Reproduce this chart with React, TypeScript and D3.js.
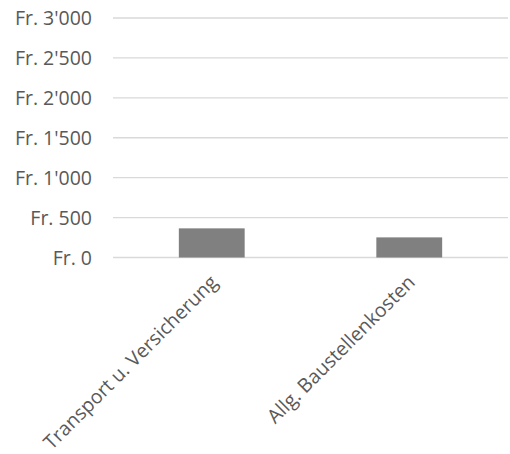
import React from "react";
import * as d3 from "d3";

const categories = ["Transport u. Versicherung", "Allg. Baustellenkosten"];
const values = [365, 252];
const yTicks = [0, 500, 1000, 1500, 2000, 2500, 3000];

const formatFr = (v: number) =>
  "Fr. " + d3.format(",")(v).replace(/,/g, "'");

export default function App() {
  const width = 510;
  const height = 454;
  const left = 113;
  const right = 508;
  const top = 18;
  const bottom = 257.5;

  const x = d3.scaleBand<string>().domain(categories).range([left, right]).paddingInner(0).paddingOuter(0);
  const y = d3.scaleLinear().domain([0, 3000]).range([bottom, top]);
  const barW = x.bandwidth() / 3;
  const font = "'Open Sans', sans-serif";
  const fs = 19.5;

  return (
    <svg width={width} height={height} style={{ position: "absolute", left: 0, top: 0 }}>
      <rect width={width} height={height} fill="#ffffff" />
      {yTicks.map((t) => (
        <g key={t}>
          <line x1={left} x2={right} y1={y(t)} y2={y(t)} stroke="#d9d9d9" strokeWidth={1.3} />
          <text x={92} y={y(t)} dy="0.36em" textAnchor="end" fontFamily={font} fontSize={fs} fill="#595959">
            {formatFr(t)}
          </text>
        </g>
      ))}
      {categories.map((c, i) => {
        const cx = (x(c) as number) + x.bandwidth() / 2;
        return (
          <g key={c}>
            <rect x={cx - barW / 2} y={y(values[i])} width={barW} height={y(0) - y(values[i])} fill="#808080" />
            <text
              transform={`translate(${cx + 7},${bottom + 26}) rotate(-45)`}
              textAnchor="end"
              fontFamily={font}
              fontSize={fs}
              fill="#595959"
            >
              {c}
            </text>
          </g>
        );
      })}
    </svg>
  );
}
